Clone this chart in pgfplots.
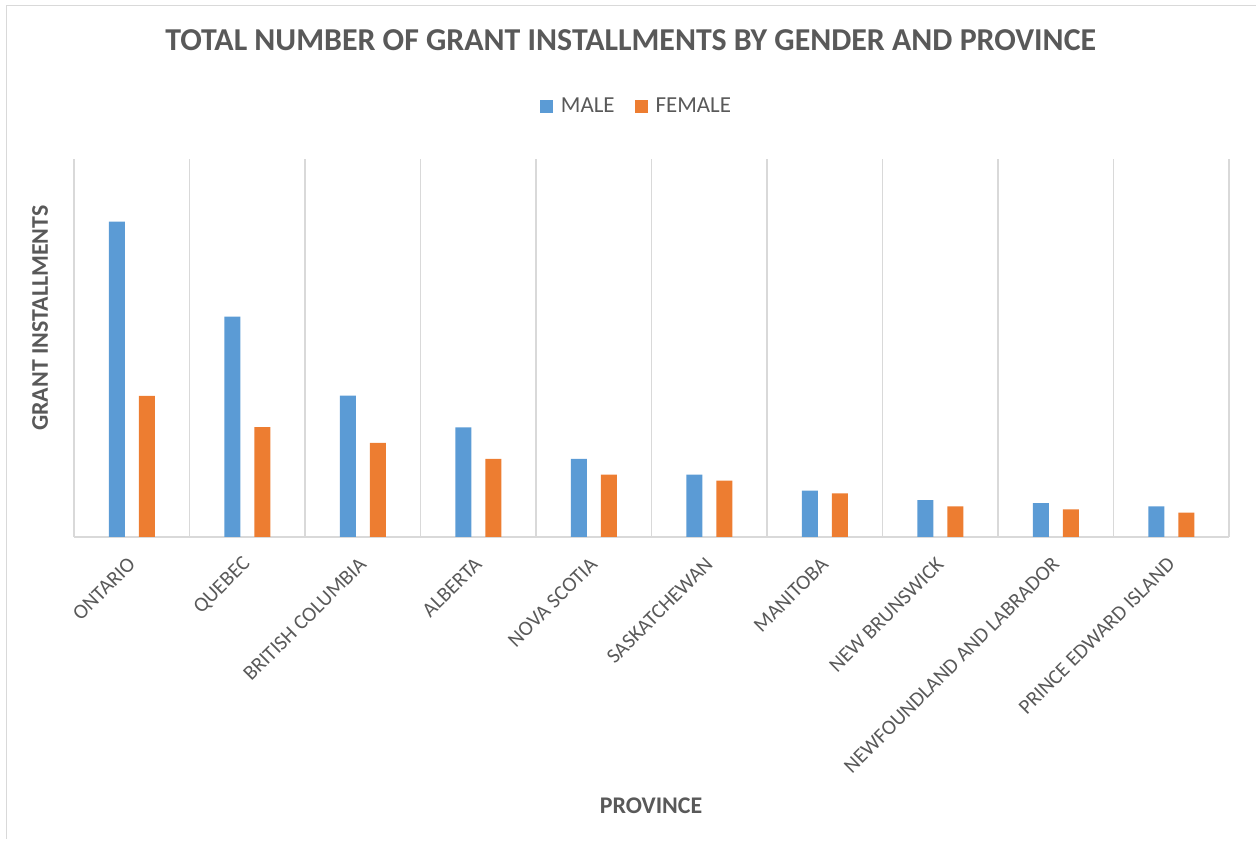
\documentclass[border=0pt]{standalone}
\usepackage{pgfplots}
\pgfplotsset{compat=1.18}
\usepackage{fontspec}
\setmainfont{Carlito}
\definecolor{mblue}{HTML}{5B9BD5}
\definecolor{forange}{HTML}{ED7D31}
\definecolor{txt}{HTML}{595959}
\definecolor{grid}{HTML}{D9D9D9}
\begin{document}
\begin{tikzpicture}[x=1bp,y=1bp]
\useasboundingbox (0,0) rectangle (1256,851);
\draw[grid, line width=1.5bp] (6.5,845.5) -- (1256,845.5);
\draw[grid, line width=1.5bp] (6.5,845.5) -- (6.5,12);
\begin{axis}[
  at={(74bp,314bp)}, anchor=south west,
  scale only axis, width=1155bp, height=378bp,
  ybar, bar width=16bp, ybar=14bp,
  xmin=-0.5, xmax=9.5, ymin=0, ymax=378.3,
  axis line style={draw=none},
  ytick=\empty, yticklabels={},
  xtick={0,...,9},
  xticklabels={ONTARIO,QUEBEC,BRITISH COLUMBIA,ALBERTA,NOVA SCOTIA,SASKATCHEWAN,MANITOBA,NEW BRUNSWICK,NEWFOUNDLAND AND LABRADOR,PRINCE EDWARD ISLAND},
  xmajorgrids=false, ymajorgrids=false,
  major tick length=0pt,
  major x tick style={draw=none},
  extra x ticks={-0.5,0.5,1.5,2.5,3.5,4.5,5.5,6.5,7.5,8.5,9.5},
  extra x tick labels={},
  extra x tick style={grid=major, major grid style={grid, line width=1.5bp}, tick style={draw=none}},
  xticklabel style={font=\fontsize{21}{25}\selectfont, text=txt, xshift=0bp, yshift=-24bp, rotate=45, anchor=east, inner sep=0pt},
  title={TOTAL NUMBER OF GRANT INSTALLMENTS BY GENDER AND PROVINCE},
  title style={font=\fontsize{32}{38}\selectfont\bfseries, text=txt, at={(axis description cs:0.482,1.299)}, anchor=center},
  xlabel={PROVINCE},
  xlabel style={font=\fontsize{24}{29}\selectfont\bfseries, text=txt, at={(axis description cs:0.4996,-0.712)}, anchor=center},
  ylabel={GRANT INSTALLMENTS},
  ylabel style={font=\fontsize{24}{29}\selectfont\bfseries, text=txt, at={(axis description cs:-0.0294,0.579)}, anchor=center, rotate=0},
  legend columns=2,
  legend style={at={(axis description cs:0.487,1.14)}, anchor=center, draw=none, fill=none,
    font=\fontsize{23}{28}\selectfont, text=txt, column sep=6bp,
    /tikz/every even column/.append style={column sep=18bp}},
  legend image code/.code={\fill[#1] (0bp,-6.5bp) rectangle (13bp,6.5bp);},
  clip=false,
]
\draw[grid, line width=1.5bp] (axis cs:-0.5,0) -- (axis cs:9.5,0);
\addplot[fill=mblue, draw=none] coordinates {(0,315.6) (1,220.6) (2,141.6) (3,109.6) (4,78.3) (5,62.3) (6,46.3) (7,37) (8,34) (9,30.6)};
\addplot[fill=forange, draw=none] coordinates {(0,141.3) (1,110) (2,94.3) (3,78.3) (4,62.3) (5,56.3) (6,43.6) (7,30.6) (8,27.6) (9,24.3)};
\legend{MALE,FEMALE}
\end{axis}
\end{tikzpicture}
\end{document}
